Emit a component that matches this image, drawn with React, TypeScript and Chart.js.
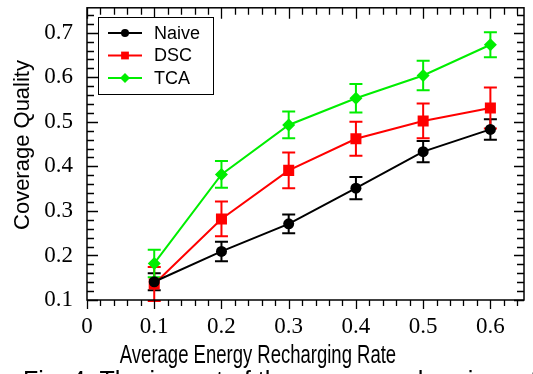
import React, { useEffect, useRef } from "react";
import { Chart, registerables } from "chart.js";

Chart.register(...registerables);

const rates = [0.1, 0.2, 0.3, 0.4, 0.5, 0.6];
const naive = [0.141, 0.209, 0.271, 0.351, 0.433, 0.483];
const naiveErr = [0.019, 0.022, 0.021, 0.025, 0.024, 0.023];
const dsc = [0.136, 0.282, 0.391, 0.462, 0.502, 0.531];
const dscErr = [0.038, 0.039, 0.04, 0.038, 0.039, 0.046];
const tca = [0.182, 0.382, 0.493, 0.553, 0.604, 0.673];
const tcaErr = [0.031, 0.03, 0.03, 0.032, 0.033, 0.028];
const xTickValues = [0, 0.1, 0.2, 0.3, 0.4, 0.5, 0.6];
const yTickValues = [0.1, 0.2, 0.3, 0.4, 0.5, 0.6, 0.7];
const xTitle = "Average Energy Recharging Rate";
const yTitle = "Coverage Quality";
const caption = "Fig. 4. The impact of the energy recharging rate";

const SANS = "'Liberation Sans', Arial, Helvetica, sans-serif";
const SERIF = "'Liberation Serif', 'Times New Roman', serif";

const series = [
  { label: "Naive", data: naive, err: naiveErr, color: "#000000", style: "circle", radius: 5.5, legendRadius: 4 },
  { label: "DSC", data: dsc, err: dscErr, color: "#ff0000", style: "rect", radius: 7.8, legendRadius: 5.5 },
  { label: "TCA", data: tca, err: tcaErr, color: "#00ee00", style: "rectRot", radius: 6.5, legendRadius: 5 },
];

function drawMarker(ctx: CanvasRenderingContext2D, style: string, r: number, x: number, y: number) {
  ctx.beginPath();
  if (style === "circle") {
    ctx.arc(x, y, r, 0, Math.PI * 2);
  } else if (style === "rect") {
    const h = r * Math.SQRT1_2;
    ctx.rect(x - h, y - h, 2 * h, 2 * h);
  } else {
    ctx.moveTo(x, y - r);
    ctx.lineTo(x + r, y);
    ctx.lineTo(x, y + r);
    ctx.lineTo(x - r, y);
    ctx.closePath();
  }
  ctx.fill();
}

const errorBars = {
  id: "errorBars",
  beforeDatasetsDraw(chart: any) {
    const { ctx, scales } = chart;
    ctx.save();
    ctx.lineWidth = 2;
    series.forEach((s) => {
      ctx.strokeStyle = s.color;
      rates.forEach((r, i) => {
        const x = scales.x.getPixelForValue(r);
        const y1 = scales.y.getPixelForValue(s.data[i] + s.err[i]);
        const y2 = scales.y.getPixelForValue(s.data[i] - s.err[i]);
        ctx.beginPath();
        ctx.moveTo(x, y1);
        ctx.lineTo(x, y2);
        ctx.moveTo(x - 6.5, y1);
        ctx.lineTo(x + 6.5, y1);
        ctx.moveTo(x - 6.5, y2);
        ctx.lineTo(x + 6.5, y2);
        ctx.stroke();
      });
    });
    ctx.restore();
  },
};

const decorations = {
  id: "decorations",
  afterDraw(chart: any) {
    const { ctx, chartArea: a, scales } = chart;
    const xs = scales.x;
    const ys = scales.y;
    ctx.save();
    // frame
    ctx.strokeStyle = "#000";
    ctx.lineWidth = 1.5;
    ctx.strokeRect(a.left, a.top, a.right - a.left, a.bottom - a.top);
    // ticks
    ctx.lineWidth = 1.3;
    ctx.beginPath();
    for (let i = 0; i * 0.02 <= xs.max + 1e-9; i++) {
      const v = i * 0.02;
      const major = i % 5 === 0;
      const px = Math.round(xs.getPixelForValue(v)) + 0.5;
      const bl = major ? 9 : 6;
      const tl = major ? 11 : 7;
      ctx.moveTo(px, a.bottom);
      ctx.lineTo(px, a.bottom + bl);
      ctx.moveTo(px, a.top);
      ctx.lineTo(px, a.top + tl);
    }
    for (let i = 0; ys.min + i * 0.02 <= ys.max + 1e-9; i++) {
      const v = ys.min + i * 0.02;
      const major = i % 5 === 0;
      const py = Math.round(ys.getPixelForValue(v)) + 0.5;
      const ll = major ? 11 : 7;
      const rl = major ? 10 : 7;
      ctx.moveTo(a.left, py);
      ctx.lineTo(a.left + ll, py);
      ctx.moveTo(a.right, py);
      ctx.lineTo(a.right - rl, py);
    }
    ctx.stroke();

    // legend
    ctx.fillStyle = "#fff";
    ctx.fillRect(98, 17, 116, 78);
    ctx.strokeStyle = "#000";
    ctx.lineWidth = 1;
    ctx.strokeRect(98.5, 17.5, 115, 77);
    const rows = [33, 55.5, 78];
    series.forEach((s, i) => {
      const y = rows[i];
      ctx.strokeStyle = s.color;
      ctx.lineWidth = 2;
      ctx.beginPath();
      ctx.moveTo(108, y);
      ctx.lineTo(142, y);
      ctx.stroke();
      ctx.fillStyle = s.color;
      drawMarker(ctx, s.style, s.legendRadius, 125, y);
      ctx.fillStyle = "#000";
      ctx.font = `18px ${SANS}`;
      ctx.textAlign = "left";
      ctx.textBaseline = "middle";
      ctx.fillText(s.label, 154, y + 1);
    });

    // axis titles and caption
    ctx.fillStyle = "#000";
    ctx.textBaseline = "alphabetic";
    ctx.font = `25px ${SANS}`;
    ctx.textAlign = "center";
    ctx.save();
    ctx.translate(258, 363);
    ctx.scale(0.74, 1);
    ctx.fillText(xTitle, 0, 0);
    ctx.restore();

    ctx.save();
    ctx.font = `22px ${SANS}`;
    ctx.textBaseline = "middle";
    ctx.translate(23, 145);
    ctx.rotate(-Math.PI / 2);
    ctx.fillText(yTitle, 0, 0);
    ctx.restore();

    ctx.textAlign = "left";
    ctx.font = `25px ${SANS}`;
    ctx.fillText(caption, 23, 389);
    ctx.restore();
  },
};

export default function App() {
  const ref = useRef<HTMLCanvasElement>(null);
  useEffect(() => {
    if (!ref.current) return;
    const chart = new Chart(ref.current, {
      type: "line",
      data: {
        datasets: series.map((s) => ({
          label: s.label,
          data: rates.map((r, i) => ({ x: r, y: s.data[i] })),
          borderColor: s.color,
          backgroundColor: s.color,
          borderWidth: 2,
          pointStyle: s.style as any,
          pointRadius: s.radius,
          pointBorderWidth: 0,
          pointBackgroundColor: s.color,
          tension: 0,
          fill: false,
        })),
      },
      options: {
        animation: false,
        responsive: true,
        maintainAspectRatio: false,
        layout: { padding: { left: 0, right: 9, top: 5, bottom: 0 } },
        plugins: {
          legend: { display: false },
          tooltip: { enabled: false },
        },
        scales: {
          x: {
            type: "linear",
            min: 0,
            max: 0.65,
            grid: { display: false, drawTicks: false },
            border: { display: false },
            ticks: {
              stepSize: 0.1,
              includeBounds: false,
              autoSkip: false,
              maxRotation: 0,
              padding: 13,
              color: "#000",
              font: { family: SERIF, size: 23 },
              callback: (v: any) => {
                const n = Number(v);
                const hit = xTickValues.find((t) => Math.abs(t - n) < 1e-6);
                if (hit === undefined) return "";
                return hit === 0 ? "0" : hit.toFixed(1);
              },
            },
            afterFit: (s: any) => {
              s.height = 74;
              s.paddingLeft = 0;
              s.paddingRight = 0;
            },
          },
          y: {
            type: "linear",
            min: 0.1,
            max: 0.756,
            grid: { display: false, drawTicks: false },
            border: { display: false },
            ticks: {
              stepSize: 0.1,
              includeBounds: false,
              autoSkip: false,
              padding: 14,
              color: "#000",
              font: { family: SERIF, size: 23 },
              callback: (v: any) => {
                const n = Number(v);
                const hit = yTickValues.find((t) => Math.abs(t - n) < 1e-6);
                return hit === undefined ? "" : hit.toFixed(1);
              },
            },
            title: { display: false, text: yTitle },
            afterFit: (s: any) => {
              s.width = 87;
              s.paddingTop = 0;
              s.paddingBottom = 0;
            },
          },
        },
      },
      plugins: [errorBars, decorations],
    });
    return () => chart.destroy();
  }, []);

  return (
    <div style={{ position: "fixed", left: 0, top: 0, width: 533, height: 374, background: "#fff" }}>
      <canvas ref={ref} />
    </div>
  );
}
